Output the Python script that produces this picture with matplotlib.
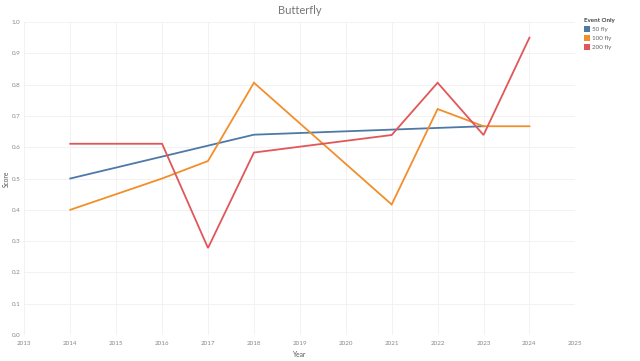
import matplotlib
matplotlib.use("Agg")
import matplotlib.pyplot as plt
from matplotlib.patches import Patch

plt.rcParams['font.family'] = ['Lato', 'DejaVu Sans']

years_50 = [2014, 2018, 2023]
score_50 = [0.50, 0.64, 0.667]

years_100 = [2014, 2016, 2017, 2018, 2021, 2022, 2023, 2024]
score_100 = [0.40, 0.50, 0.556, 0.806, 0.417, 0.722, 0.667, 0.667]

years_200 = [2014, 2016, 2017, 2018, 2021, 2022, 2023, 2024]
score_200 = [0.611, 0.611, 0.278, 0.583, 0.639, 0.806, 0.639, 0.95]

labels = ['50 fly', '100 fly', '200 fly']
colors = ['#4e79a7', '#f28e2b', '#e15759']

fig = plt.figure(figsize=(6.4, 3.61), dpi=100)
ax = fig.add_axes([0.038, 0.072, 0.861, 0.867])

for xs, ys, c in zip([years_50, years_100, years_200],
                     [score_50, score_100, score_200], colors):
    ax.plot(xs, ys, color=c, lw=1.3, solid_joinstyle='miter')

ax.set_xlim(2013, 2025)
ax.set_ylim(0, 1.0)
ax.set_xticks(range(2013, 2026))
ax.set_yticks([i / 10 for i in range(11)])
ax.set_yticklabels([f"{i / 10:.1f}" for i in range(11)])
ax.grid(True, color='#f0f0f0', lw=0.6)
ax.set_axisbelow(True)
for s in ax.spines.values():
    s.set_visible(False)
ax.tick_params(axis='y', length=0, labelsize=4.5, labelcolor='#888888', pad=3)
ax.tick_params(axis='x', length=0, labelsize=4.5, labelcolor='#888888', pad=4)

ax.set_xlabel('Year', fontsize=4.8, color='#555555', labelpad=4)
ax.set_ylabel('Score', fontsize=4.8, color='#555555')
ax.yaxis.set_label_coords(-0.027, 0.5)
ax.set_title('Butterfly', fontsize=8, color='#777777', pad=6)

handles = [Patch(facecolor=c, edgecolor='none') for c in colors]
leg = fig.legend(handles, labels, title='Event Only', loc='upper left',
                 bbox_to_anchor=(0.903, 0.965), frameon=False, fontsize=4.5,
                 title_fontsize=4.5, handlelength=1.1, handleheight=1.1,
                 handletextpad=0.3, labelspacing=0.45, alignment='left')
leg.get_title().set_fontweight('bold')
leg.get_title().set_color('#444444')
for t in leg.get_texts():
    t.set_color('#666666')

fig.savefig('out.png', dpi=100, facecolor='white')
